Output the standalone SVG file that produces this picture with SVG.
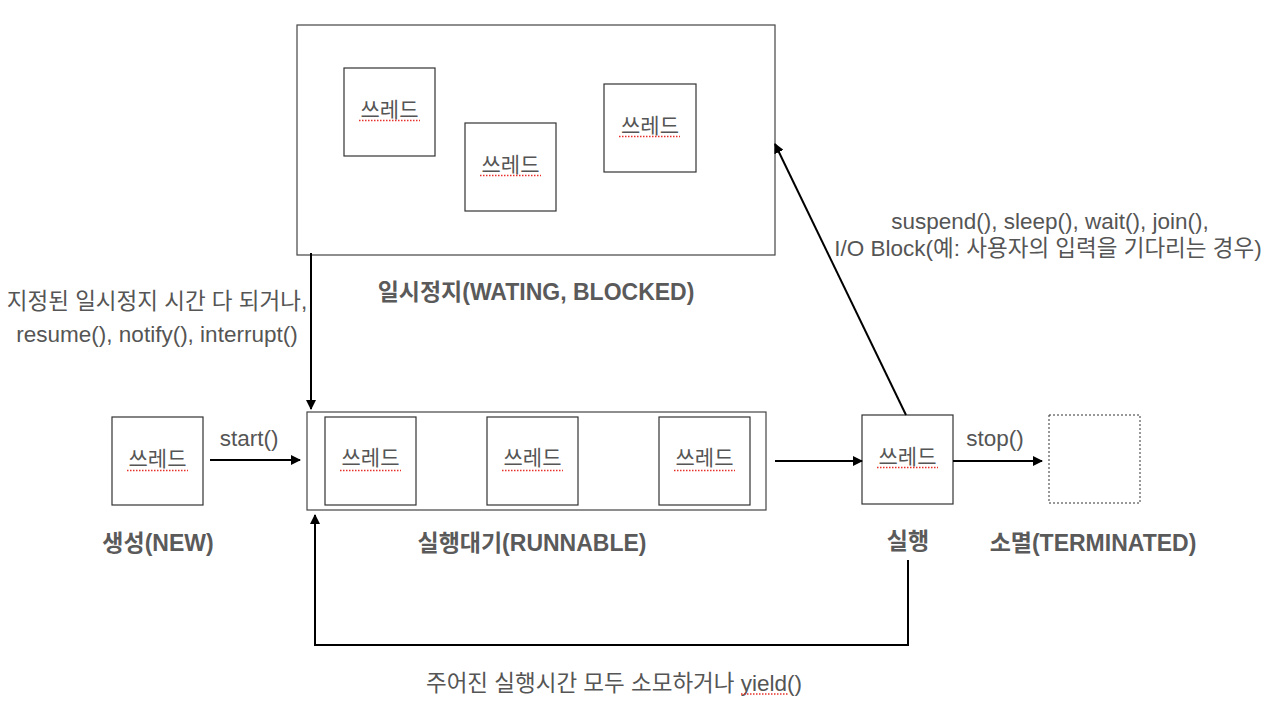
<svg xmlns="http://www.w3.org/2000/svg" width="1280" height="714" viewBox="0 0 1280 714">
<style>
  text { font-family: "Liberation Sans", "Noto Sans CJK KR", sans-serif; fill: #555555; }
  .t { font-size: 21px; text-anchor: middle; }
  .lbl { font-size: 22.5px; text-anchor: middle; }
  .big { font-size: 23px; font-weight: bold; text-anchor: middle; fill: #5a5a5a; }
  .box { fill: #ffffff; stroke: #333333; stroke-width: 1.2; }
  .frame { fill: #ffffff; stroke: #444444; stroke-width: 1.2; }
  .dead { fill: #ffffff; stroke: #333333; stroke-width: 1; stroke-dasharray: 2 2; }
  .spell { stroke: #e8302a; stroke-width: 1.3; stroke-dasharray: 1.5 1.5; }
  .conn { fill: none; stroke: #000000; stroke-width: 2; }
</style>
<defs>
  <marker id="ah" viewBox="0 0 10 10" refX="9" refY="5" markerWidth="5" markerHeight="5" orient="auto" markerUnits="strokeWidth">
    <path d="M0,0 L10,5 L0,10 z" fill="#000000"/>
  </marker>
</defs>
<rect width="1280" height="714" fill="#ffffff"/>

<g id="waiting">
  <rect class="frame" x="297" y="25" width="478" height="230"/>
  <text class="big" x="536" y="300">일시정지(WATING, BLOCKED)</text>
  <g id="wthread1">
    <rect class="box" x="344" y="68" width="91" height="88"/>
    <text class="t" x="389.5" y="117">쓰레드</text>
    <line class="spell" x1="359" y1="120.5" x2="420" y2="120.5"/>
  </g>
  <g id="wthread2">
    <rect class="box" x="465" y="123" width="91" height="88"/>
    <text class="t" x="510.5" y="172">쓰레드</text>
    <line class="spell" x1="480" y1="175.5" x2="541" y2="175.5"/>
  </g>
  <g id="wthread3">
    <rect class="box" x="604" y="84" width="92" height="88"/>
    <text class="t" x="650" y="133">쓰레드</text>
    <line class="spell" x1="619" y1="136.5" x2="680" y2="136.5"/>
  </g>
</g>

<g id="new">
  <rect class="box" x="112" y="417" width="91" height="88"/>
  <text class="t" x="157.5" y="466">쓰레드</text>
  <line class="spell" x1="127" y1="470.5" x2="188" y2="470.5"/>
  <text class="big" x="158" y="551">생성(NEW)</text>
</g>

<g id="runnable">
  <rect class="frame" x="307" y="412" width="459" height="98"/>
  <g id="rthread1">
    <rect class="box" x="325" y="417" width="91" height="88"/>
    <text class="t" x="370.5" y="465">쓰레드</text>
    <line class="spell" x1="340" y1="470.5" x2="401" y2="470.5"/>
  </g>
  <g id="rthread2">
    <rect class="box" x="487" y="417" width="91" height="88"/>
    <text class="t" x="532.5" y="465">쓰레드</text>
    <line class="spell" x1="502" y1="470.5" x2="563" y2="470.5"/>
  </g>
  <g id="rthread3">
    <rect class="box" x="659" y="417" width="91" height="88"/>
    <text class="t" x="704.5" y="465">쓰레드</text>
    <line class="spell" x1="674" y1="470.5" x2="735" y2="470.5"/>
  </g>
  <text class="big" x="532" y="551">실행대기(RUNNABLE)</text>
</g>

<g id="running">
  <rect class="box" x="862" y="415" width="91" height="89"/>
  <text class="t" x="907.5" y="464">쓰레드</text>
  <line class="spell" x1="877" y1="467.5" x2="938" y2="467.5"/>
  <text class="big" x="908" y="549">실행</text>
</g>

<g id="terminated">
  <rect class="dead" x="1049" y="415" width="91" height="88"/>
  <text class="big" x="1093" y="551">소멸(TERMINATED)</text>
</g>

<g id="connectors">
  <line class="conn" x1="210" y1="460" x2="300" y2="460" marker-end="url(#ah)"/>
  <line class="conn" x1="775" y1="461" x2="862" y2="461" marker-end="url(#ah)"/>
  <line class="conn" x1="953" y1="461" x2="1042" y2="461" marker-end="url(#ah)"/>
  <line class="conn" x1="311" y1="253" x2="311" y2="409" marker-end="url(#ah)"/>
  <line class="conn" x1="906" y1="415" x2="775" y2="144" marker-end="url(#ah)"/>
  <polyline class="conn" points="908,560 908,645 315,645 315,515" marker-end="url(#ah)"/>
</g>

<g id="labels">
  <text class="lbl" x="249" y="446">start()</text>
  <text class="lbl" x="995" y="446">stop()</text>
  <text class="lbl" x="1050" y="229">suspend(), sleep(), wait(), join(),</text>
  <text class="lbl" x="1048" y="256">I/O Block(예: 사용자의 입력을 기다리는 경우)</text>
  <text class="lbl" x="157" y="309">지정된 일시정지 시간 다 되거나,</text>
  <text class="lbl" x="157" y="342">resume(), notify(), interrupt()</text>
  <text class="lbl" x="614" y="691">주어진 실행시간 모두 소모하거나 yield()</text>
  <line class="spell" x1="741" y1="694" x2="789" y2="694"/>
</g>
</svg>
